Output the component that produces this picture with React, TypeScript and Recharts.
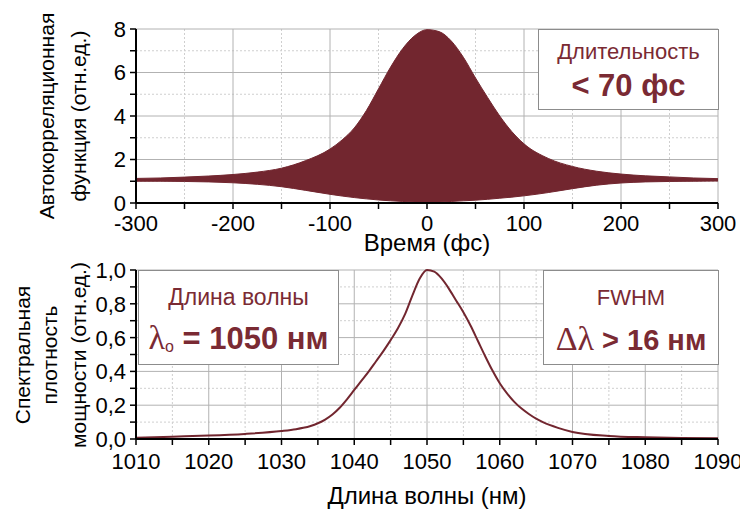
import React from 'react'
import { ComposedChart, Area, Line, XAxis, YAxis, CartesianGrid } from 'recharts'

// Interferometric autocorrelation: fringe envelope (lower / upper) vs delay
const delayFs = [-300, -275, -250, -225, -200, -175, -150, -125, -100, -87.5, -75, -62.5, -50, -37.5, -25, -12.5, 0, 12.5, 25, 37.5, 50, 62.5, 75, 87.5, 100, 125, 150, 175, 200, 225, 250, 275, 300]
const acfUpper = [1.13, 1.15, 1.19, 1.24, 1.31, 1.42, 1.6, 1.95, 2.48, 2.9, 3.45, 4.25, 5.25, 6.25, 7.1, 7.7, 7.97, 7.88, 7.45, 6.7, 5.75, 4.85, 4.0, 3.28, 2.72, 2.05, 1.68, 1.46, 1.33, 1.25, 1.2, 1.15, 1.12]
const acfLower = [1.0, 1.0, 0.99, 0.97, 0.93, 0.86, 0.75, 0.58, 0.4, 0.32, 0.25, 0.19, 0.14, 0.1, 0.07, 0.05, 0.04, 0.05, 0.07, 0.1, 0.13, 0.17, 0.22, 0.27, 0.33, 0.48, 0.66, 0.82, 0.92, 0.97, 0.99, 1.0, 1.01]

// Spectrum
const wavelengthNm = [1010, 1015, 1020, 1025, 1030, 1032, 1033, 1034, 1035, 1036, 1037, 1038, 1039, 1040, 1041, 1042, 1043, 1044, 1045, 1046, 1047, 1048, 1049, 1050, 1051, 1052, 1053, 1054, 1055, 1056, 1057, 1058, 1059, 1060, 1061, 1062, 1063, 1064, 1065, 1066, 1068, 1070, 1075, 1080, 1085, 1090]
const spectrum = [0.008, 0.014, 0.02, 0.03, 0.047, 0.058, 0.066, 0.077, 0.093, 0.115, 0.145, 0.185, 0.235, 0.29, 0.345, 0.4, 0.46, 0.52, 0.585, 0.655, 0.74, 0.85, 0.95, 1.0, 0.99, 0.95, 0.89, 0.82, 0.75, 0.67, 0.58, 0.49, 0.405, 0.33, 0.27, 0.22, 0.18, 0.148, 0.12, 0.098, 0.066, 0.042, 0.018, 0.01, 0.006, 0.004]

// ticks (major ones get labels / solid grid)
const delayTicks = [-300, -250, -200, -150, -100, -50, 0, 50, 100, 150, 200, 250, 300]
const delayMajor = [-300, -200, -100, 0, 100, 200, 300]
const delayMinor = [-250, -150, -50, 50, 150, 250]
const acfTicks = [0, 1, 2, 3, 4, 5, 6, 7, 8]
const acfMajor = [0, 2, 4, 6, 8]
const acfMinor = [1, 3, 5, 7]

const wlTicks = [1010, 1015, 1020, 1025, 1030, 1035, 1040, 1045, 1050, 1055, 1060, 1065, 1070, 1075, 1080, 1085, 1090]
const wlMajor = [1010, 1020, 1030, 1040, 1050, 1060, 1070, 1080, 1090]
const wlMinor = [1015, 1025, 1035, 1045, 1055, 1065, 1075, 1085]
const psdTicks = [0, 0.1, 0.2, 0.3, 0.4, 0.5, 0.6, 0.7, 0.8, 0.9, 1.0]
const psdMajor = [0, 0.2, 0.4, 0.6, 0.8, 1.0]
const psdMinor = [0.1, 0.3, 0.5, 0.7, 0.9]

const acfData = delayFs.map((t, i) => ({ t, band: [acfLower[i], acfUpper[i]] }))
const specData = wavelengthNm.map((wl, i) => ({ wl, p: spectrum[i] }))

const WINE = '#72262f'
const TEXT_RED = '#7a2a33'
const FONT = '"Liberation Sans", Arial, sans-serif'
const SERIF = '"Liberation Serif", "Times New Roman", serif'

const isMajor = (list: number[], v: number) => list.some((m) => Math.abs(m - v) < 1e-6)

const makeXTick = (major: number[]) => (props: any) => {
  const { x, y, payload } = props
  if (!isMajor(major, payload.value)) return <g />
  return (
    <text x={x} y={y} dy="0.71em" textAnchor="middle" fontSize={22} fontFamily={FONT} fill="#000">
      {payload.value}
    </text>
  )
}

const makeYTick = (major: number[], fmt: (v: number) => string) => (props: any) => {
  const { x, y, payload } = props
  if (!isMajor(major, payload.value)) return <g />
  return (
    <text x={x} y={y} dy="0.36em" textAnchor="end" fontSize={22} fontFamily={FONT} fill="#000">
      {fmt(payload.value)}
    </text>
  )
}

const VLabel = ({ cx, cy, text, size = 21 }: { cx: number; cy: number; text: string; size?: number }) => (
  <div
    style={{
      position: 'absolute',
      left: cx,
      top: cy,
      transform: 'translate(-50%, -50%) rotate(-90deg)',
      whiteSpace: 'nowrap',
      fontFamily: FONT,
      fontSize: size,
      color: '#000',
      lineHeight: 1,
    }}
  >
    {text}
  </div>
)

const HLabel = ({ cx, cy, text, size = 24 }: { cx: number; cy: number; text: string; size?: number }) => (
  <div
    style={{
      position: 'absolute',
      left: cx,
      top: cy,
      transform: 'translate(-50%, -50%)',
      whiteSpace: 'nowrap',
      fontFamily: FONT,
      fontSize: size,
      color: '#000',
      lineHeight: 1,
    }}
  >
    {text}
  </div>
)

const boxStyle = (left: number, top: number, width: number, height: number): React.CSSProperties => ({
  position: 'absolute',
  left,
  top,
  width,
  height,
  boxSizing: 'border-box',
  border: '1px solid #8c8c8c',
  background: '#fff',
  color: TEXT_RED,
  fontFamily: FONT,
  textAlign: 'center',
  whiteSpace: 'nowrap',
})

export default function App() {
  return (
    <div style={{ position: 'absolute', left: 0, top: 0, width: 740, height: 512, background: '#fff', overflow: 'hidden' }}>
      {/* Autocorrelation panel */}
      <div style={{ position: 'absolute', left: 0, top: 0 }}>
        <ComposedChart width={740} height={250} data={acfData} margin={{ top: 29, right: 22, bottom: 17, left: 0 }}>
          <CartesianGrid verticalValues={delayMinor} horizontalValues={acfMinor} stroke="#cfcfcf" strokeDasharray="2 2" />
          <CartesianGrid verticalValues={delayMajor} horizontalValues={acfMajor} stroke="#b2b2b2" />
          <XAxis
            dataKey="t"
            type="number"
            domain={[-300, 300]}
            ticks={delayTicks}
            interval={0}
            height={30}
            tickSize={6}
            tickMargin={6}
            axisLine={{ stroke: '#000', strokeWidth: 2 }}
            tickLine={{ stroke: '#000', strokeWidth: 1.5 }}
            tick={makeXTick(delayMajor)}
          />
          <YAxis
            type="number"
            domain={[0, 8]}
            ticks={acfTicks}
            interval={0}
            width={136}
            tickSize={6}
            tickMargin={4}
            axisLine={{ stroke: '#000', strokeWidth: 2 }}
            tickLine={{ stroke: '#000', strokeWidth: 1.5 }}
            tick={makeYTick(acfMajor, (v) => String(v))}
          />
          <Area
            dataKey="band"
            type="monotone"
            stroke={WINE}
            strokeWidth={1}
            fill={WINE}
            fillOpacity={1}
            dot={false}
            activeDot={false}
            isAnimationActive={false}
          />
        </ComposedChart>
      </div>

      {/* Spectrum panel */}
      <div style={{ position: 'absolute', left: 0, top: 250 }}>
        <ComposedChart width={740} height={262} data={specData} margin={{ top: 20, right: 22, bottom: 43, left: 0 }}>
          <CartesianGrid verticalValues={wlMinor} horizontalValues={psdMinor} stroke="#cfcfcf" strokeDasharray="2 2" />
          <CartesianGrid verticalValues={wlMajor} horizontalValues={psdMajor} stroke="#b2b2b2" />
          <XAxis
            dataKey="wl"
            type="number"
            domain={[1010, 1090]}
            ticks={wlTicks}
            interval={0}
            height={30}
            tickSize={6}
            tickMargin={8}
            axisLine={{ stroke: '#000', strokeWidth: 2 }}
            tickLine={{ stroke: '#000', strokeWidth: 1.5 }}
            tick={makeXTick(wlMajor)}
          />
          <YAxis
            type="number"
            domain={[0, 1]}
            ticks={psdTicks}
            interval={0}
            width={136}
            tickSize={6}
            tickMargin={4}
            axisLine={{ stroke: '#000', strokeWidth: 2 }}
            tickLine={{ stroke: '#000', strokeWidth: 1.5 }}
            tick={makeYTick(psdMajor, (v) => v.toFixed(1).replace('.', ','))}
          />
          <Line
            dataKey="p"
            type="monotone"
            stroke={WINE}
            strokeWidth={2}
            dot={false}
            activeDot={false}
            isAnimationActive={false}
          />
        </ComposedChart>
      </div>

      {/* axis titles */}
      <VLabel cx={46} cy={116} text="Автокорреляционная" />
      <VLabel cx={78} cy={116} text="функция (отн.ед.)" />
      <HLabel cx={427} cy={243} text="Время (фс)" />

      <VLabel cx={22} cy={355} text="Спектральная" />
      <VLabel cx={49} cy={355} text="плотность" />
      <VLabel cx={78} cy={355} text="мощности (отн.ед.)" />
      <HLabel cx={427} cy={496} text="Длина волны (нм)" />

      {/* annotation boxes */}
      <div style={boxStyle(538, 29, 181, 81)}>
        <div style={{ fontSize: 22, marginTop: 9, lineHeight: '25px' }}>Длительность</div>
        <div style={{ fontSize: 31, fontWeight: 'bold', marginTop: 4, lineHeight: '36px' }}>&lt; 70 фс</div>
      </div>

      <div style={boxStyle(138, 270, 201, 95)}>
        <div style={{ fontSize: 23, marginTop: 13, lineHeight: '26px' }}>Длина волны</div>
        <div style={{ marginTop: 8, lineHeight: '40px' }}>
          <span style={{ fontFamily: SERIF, fontSize: 34 }}>λ</span>
          <span style={{ fontSize: 16, verticalAlign: '-3px' }}>o</span>
          <span style={{ fontSize: 31, fontWeight: 'bold' }}> = 1050 нм</span>
        </div>
      </div>

      <div style={boxStyle(543, 270, 176, 95)}>
        <div style={{ fontSize: 22, marginTop: 14, lineHeight: '26px' }}>FWHM</div>
        <div style={{ marginTop: 8, lineHeight: '40px' }}>
          <span style={{ fontFamily: SERIF, fontSize: 34 }}>Δλ</span>
          <span style={{ fontSize: 29, fontWeight: 'bold' }}> &gt; 16 нм</span>
        </div>
      </div>
    </div>
  )
}
